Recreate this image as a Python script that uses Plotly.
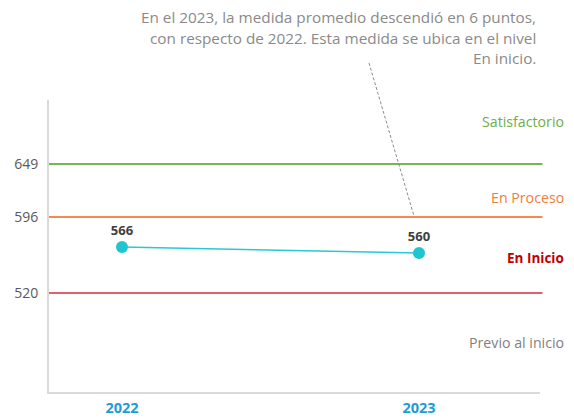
import plotly.graph_objects as go

# ---- data ----
years = ["2022", "2023"]
scores = [566, 560]
level_thresholds = [649, 596, 520]
threshold_colors = ["#77b552", "#f58a4c", "#e0606e"]
level_names = ["Satisfactorio", "En Proceso", "En Inicio", "Previo al inicio"]
level_colors = ["#70ad47", "#ef7d3a", "#c00000", "#7f7f7f"]
callout_lines = [
    "En el 2023, la medida promedio descendió en 6 puntos,",
    "con respecto de 2022. Esta medida se ubica en el nivel",
    "En inicio.",
]

W, H = 574, 419
L, R, T, B = 49, 540, 100, 392  # plot area in pixels

def px_x(p):
    return (p - L) / (R - L)

def px_y(p):
    return (B - p) / (B - T)

FONT = "Open Sans"
xpos = list(range(len(years)))

fig = go.Figure()
fig.add_trace(go.Scatter(
    x=xpos, y=scores, mode="lines+markers+text",
    text=[str(v) for v in scores], textposition="top center",
    textfont=dict(family=FONT, size=13, color="#404040", weight="bold"),
    line=dict(color="#29c9d3", width=1.5),
    marker=dict(color="#1fc6d0", size=12),
    cliponaxis=False, hoverinfo="skip", showlegend=False,
))

for v, c in zip(level_thresholds, threshold_colors):
    fig.add_shape(type="line", xref="paper", yref="y", x0=0, x1=1.005,
                  y0=v, y1=v, line=dict(color=c, width=2), layer="below")

# dashed callout line
fig.add_shape(type="line", xref="paper", yref="paper",
              x0=px_x(369), y0=px_y(63), x1=px_x(414), y1=px_y(216),
              line=dict(color="#8c8c8c", width=1, dash="3px,2px"))

for txt, yp in zip(callout_lines, [17, 38, 58]):
    fig.add_annotation(text=txt, xref="paper", yref="paper", x=px_x(538), y=px_y(yp),
                       xanchor="right", yanchor="middle", showarrow=False,
                       font=dict(family=FONT, size=15.3, color="#8a8a8a"))

for name, col, yp in zip(level_names, level_colors, [122, 197, 258, 342]):
    fig.add_annotation(text=name, xref="paper", yref="paper", x=px_x(566), y=px_y(yp),
                       xanchor="right", yanchor="middle", showarrow=False,
                       font=dict(family=FONT, size=14.2 if name != "En Inicio" else 13.5,
                                 color=col,
                                 weight="bold" if name == "En Inicio" else "normal"))

fig.update_layout(
    width=W, height=H,
    margin=dict(l=L, r=W - R, t=T, b=H - B, pad=0, autoexpand=False),
    paper_bgcolor="white", plot_bgcolor="white",
    xaxis=dict(range=[-(122 - L) / 297, 1 + (R - 419) / 297],
               tickvals=xpos, ticktext=years, showgrid=False, zeroline=False,
               showline=True, linecolor="#d9d9d9", linewidth=2, automargin=False,
               tickfont=dict(family=FONT, size=14.5, color="#1f9bd6", weight="bold"),
               ticks="", ticklabelstandoff=2),
    yaxis=dict(range=[421, 713], tickvals=level_thresholds,
               ticktext=[str(v) for v in level_thresholds],
               showgrid=False, zeroline=False, automargin=False,
               showline=True, linecolor="#d9d9d9", linewidth=2,
               tickfont=dict(family=FONT, size=14, color="#595959"),
               ticks="", ticklabelstandoff=6),
)

fig.write_html("out.html", config={"displayModeBar": False},
               post_script="document.body.style.margin='0';")
